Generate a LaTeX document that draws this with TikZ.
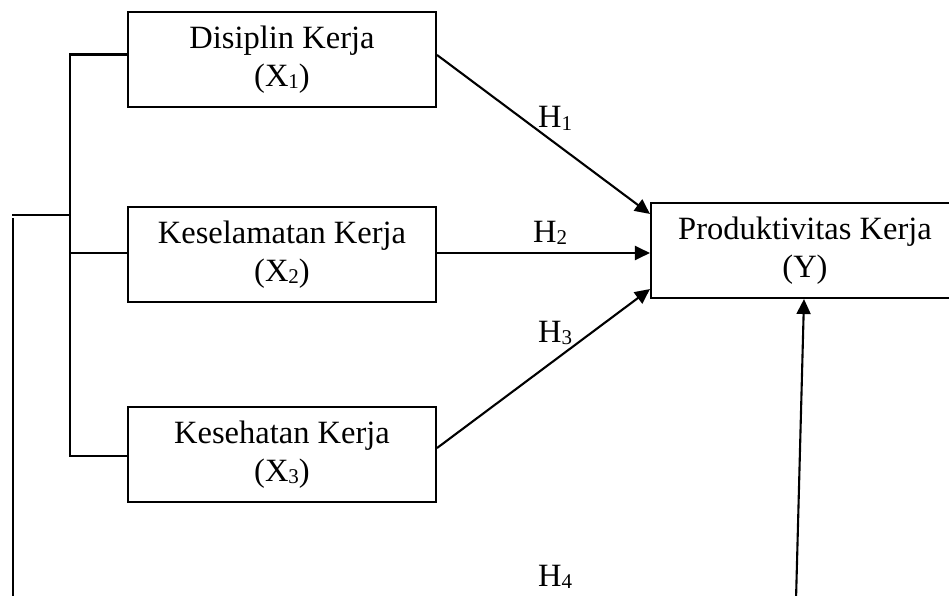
\documentclass[tikz,border=0pt]{standalone}
\usepackage{fontspec}
\setmainfont{Liberation Serif}
\usetikzlibrary{arrows.meta}
\newcommand{\lowsub}[1]{\raisebox{-2.5pt}{\fontsize{21}{21}\selectfont #1}}
\begin{document}
\begin{tikzpicture}[x=1pt,y=-1pt,
  line width=2.1pt,
  varbox/.style={draw, rectangle, minimum width=308pt, minimum height=95pt, align=center, inner sep=0pt,
    font=\fontsize{32.5}{38}\selectfont},
  lbl/.style={anchor=base west, inner sep=0pt, font=\fontsize{32.5}{38}\selectfont},
  arr/.style={-{Triangle[length=15pt,width=14pt]}}]
\useasboundingbox (0,0) rectangle (949,596);
\clip (0,0) rectangle (949,596);
\node[varbox] (b1) at (282,59.5) {Disiplin Kerja\\(X\lowsub{1})};
\node[varbox] (b2) at (282,254.5) {Keselamatan Kerja\\(X\lowsub{2})};
\node[varbox] (b3) at (282,454.5) {Kesehatan Kerja\\(X\lowsub{3})};
\node[varbox] (y) at (805,250.5) {Produktivitas Kerja\\(Y)};
% bracket
\draw ([yshift=5pt]b1.west) -- ++(-57,0) |- ([yshift=-1.5pt]b3.west);
\coordinate (bm) at (71,253);
\draw (bm) -- (bm -| b2.west);
% left stub
\coordinate (s1) at (69,215);
\coordinate (s2) at (12,215);
\coordinate (s3) at (13,218);
\coordinate (s4) at (13,600);
\draw (s1) -- (s2);
\draw (s3) -- (s4);
% arrows
\draw[arr] ([yshift=4.5pt]b1.east) -- ([yshift=-12pt]y.north west);
\draw[arr] ([yshift=1.5pt]b2.east) -- ([yshift=1.5pt]b2.east -| y.west);
\draw[arr] ([yshift=6.5pt]b3.east) -- ([yshift=10pt]y.south west);
\coordinate (h4s) at (796,600);
\draw[arr] (h4s) -- ([xshift=-1pt]y.south);
% labels
\node[lbl] (l1) at (537,128) {H\lowsub{1}};
\node[lbl] (l2) at (532,242) {H\lowsub{2}};
\node[lbl] (l3) at (537,342) {H\lowsub{3}};
\node[lbl] (l4) at (537,586) {H\lowsub{4}};
\end{tikzpicture}
\end{document}
